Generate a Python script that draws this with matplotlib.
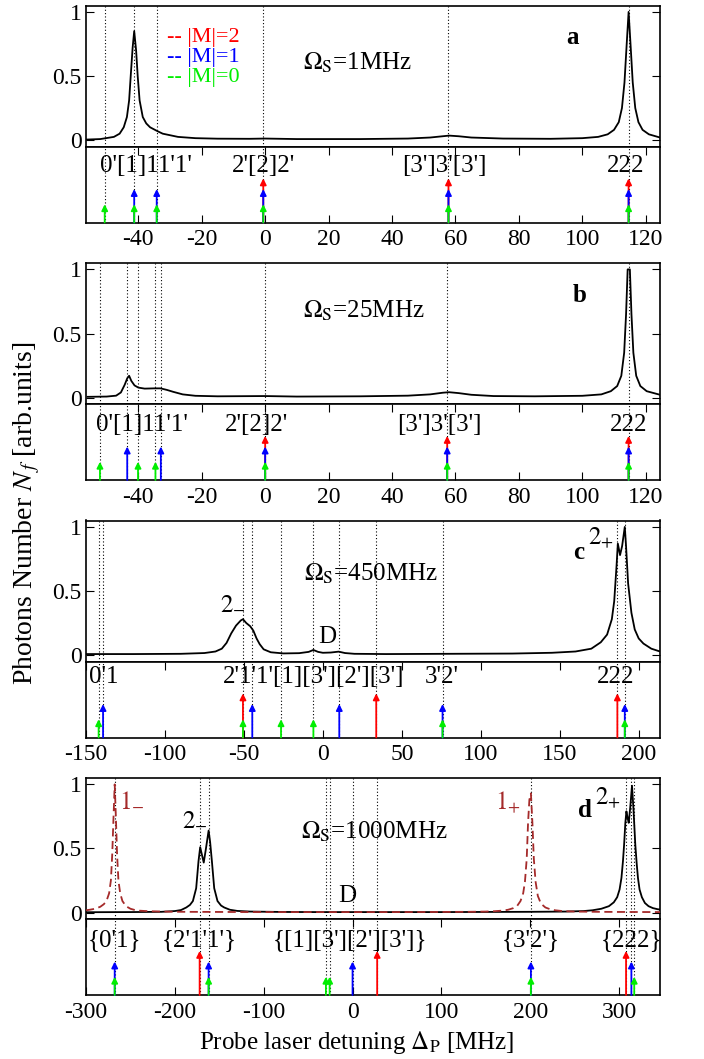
import matplotlib
matplotlib.use("Agg")
import matplotlib.pyplot as plt

plt.rcParams['font.family'] = ['Liberation Serif', 'DejaVu Serif']
plt.rcParams['mathtext.fontset'] = 'stix'

# ---------------- spectra ----------------
a_x = [-56.5, -52, -47.7, -45.9, -44.6, -43.6, -42.9, -42.4, -41.8, -41.3, -40.7, -40.2, -39.6,
       -38.6, -37.5, -36.3, -34, -32.3, -30, -27.5, -22, -15, -5, 0, 10, 30, 45, 52, 56, 58, 61,
       65, 75, 90, 100, 105, 108, 110, 111.5, 112.5, 113.3, 114, 114.6, 115.2, 115.9, 116.7,
       117.7, 119, 121, 124.5]
a_y = [0.004, 0.008, 0.025, 0.05, 0.10, 0.18, 0.31, 0.50, 0.72, 0.85, 0.70, 0.50, 0.31,
       0.18, 0.13, 0.10, 0.07, 0.05, 0.038, 0.025, 0.015, 0.011, 0.01, 0.012, 0.008, 0.008, 0.012,
       0.02, 0.03, 0.035, 0.03, 0.02, 0.012, 0.01, 0.015, 0.025, 0.045, 0.08, 0.14, 0.25, 0.45,
       0.75, 1.0, 0.75, 0.45, 0.25, 0.14, 0.08, 0.045, 0.02]

b_x = [-56, -50, -47, -45.5, -44.3, -43.5, -42.9, -42.2, -41.2, -40, -38, -35, -33, -31, -29,
       -26, -22, -15, 0, 10, 30, 45, 52, 56, 58, 61, 65, 72, 85, 100, 106, 109, 111, 112.3,
       113.2, 113.8, 114.3, 115.0, 115.5, 116.1, 117.0, 118.3, 120.3, 124.5]
b_y = [0.006, 0.008, 0.015, 0.04, 0.10, 0.15, 0.17, 0.13, 0.095, 0.078, 0.07, 0.072, 0.072,
       0.06, 0.045, 0.025, 0.014, 0.01, 0.012, 0.008, 0.01, 0.015, 0.025, 0.038, 0.042, 0.035,
       0.022, 0.012, 0.01, 0.014, 0.025, 0.05, 0.09, 0.17, 0.35, 0.65, 1.0, 1.0, 0.65, 0.35,
       0.17, 0.09, 0.05, 0.022]

c_x = [-150, -120, -90, -75, -68, -64, -61, -58, -55, -52, -50.6, -48.5, -46, -44, -42, -40,
       -37.5, -33, -25, -15, -9, -6, -3, 0, 5, 10, 14, 20, 40, 80, 120, 145, 160, 170, 176, 180,
       183, 184.5, 186, 186.8, 188.2, 189.5, 191.2, 192, 193.3, 195.4, 197.5, 200, 203, 208, 213]
c_y = [0.008, 0.008, 0.01, 0.016, 0.028, 0.05, 0.095, 0.17, 0.23, 0.27, 0.28, 0.25, 0.225,
       0.19, 0.13, 0.085, 0.045, 0.022, 0.013, 0.015, 0.025, 0.04, 0.025, 0.018, 0.02, 0.027,
       0.016, 0.01, 0.008, 0.01, 0.012, 0.018, 0.028, 0.05, 0.1, 0.16, 0.28, 0.42, 0.7, 0.87,
       0.78, 0.85, 1.0, 0.85, 0.56, 0.33, 0.2, 0.13, 0.09, 0.05, 0.03]

d_x = [-300, -250, -215, -200, -193, -187.1, -183, -179.7, -176, -173.4, -171.5, -169.5,
       -167.5, -165, -162, -160.3, -158.3, -155.7, -152, -148, -144.5, -138, -129.7, -115, -80,
       -40, 0, 40, 100, 150, 200, 240, 260, 270, 280, 288.5, 294, 297.8, 300.5, 302.6, 304.3,
       305.6, 307, 308.2, 309.5, 310.8, 312.5, 314.5, 316.2, 318.2, 319.8, 321.2, 323, 325.6,
       329, 333.1, 338, 343.5, 346]
d_y = [0.003, 0.004, 0.006, 0.012, 0.02, 0.04, 0.06, 0.09, 0.19, 0.40, 0.51, 0.45,
       0.39, 0.5, 0.64, 0.55, 0.40, 0.19, 0.09, 0.055, 0.04, 0.022, 0.013, 0.008, 0.005,
       0.004, 0.004, 0.004, 0.004, 0.005, 0.006, 0.008, 0.012, 0.018, 0.03, 0.05, 0.08, 0.12,
       0.18, 0.27, 0.4, 0.53, 0.7, 0.79, 0.74, 0.70, 0.82, 0.99, 0.8, 0.53, 0.38, 0.27, 0.18,
       0.12, 0.075, 0.05, 0.035, 0.026, 0.024]

# 1-/1+ dressed-state resonances (dashed curve, panel d)
dr_x = [-300, -296, -292, -288, -284, -280, -277, -274, -272, -270.5, -269, -267.7, -266.4,
        -265, -263.5, -261.5, -259, -255, -250, -245, -240, -230, -215, -190, -150, -100, -50,
        0, 50, 100, 130, 150, 160, 168, 175, 181, 185, 189, 192, 194, 196, 197.5, 199, 200.7,
        202.4, 204, 206, 208.5, 212, 217, 222, 228, 236, 250, 275, 300, 346]
dr_y = [0.018, 0.022, 0.027, 0.035, 0.045, 0.065, 0.09, 0.15, 0.25, 0.45, 0.75, 1.0, 0.75,
        0.45, 0.25, 0.15, 0.09, 0.05, 0.03, 0.02, 0.015, 0.011, 0.008, 0.006, 0.005, 0.004,
        0.004, 0.004, 0.004, 0.005, 0.006, 0.008, 0.011, 0.015, 0.022, 0.035, 0.05, 0.09, 0.15,
        0.24, 0.42, 0.7, 0.88, 0.93, 0.7, 0.42, 0.24, 0.13, 0.07, 0.04, 0.027, 0.018, 0.012,
        0.008, 0.006, 0.005, 0.004]

# ---------------- transition positions by |M| ----------------
a_m0 = [-50.6, -41.3, -34.2, -0.6, 57.8, 114.6]
a_m1 = [-41.3, -34.2, -0.6, 57.8, 114.6]
a_m2 = [-0.6, 57.8, 114.6]

b_m0 = [-52.1, -40.1, -34.6, 0, 57.4, 114.6]
b_m1 = [-43.5, -32.9, 0, 57.4, 114.6]
b_m2 = [0, 57.4, 114.6]

c_m0 = [-142, -50.6, -26.5, -6, 75.8, 191.2]
c_m1 = [-139.2, -44.7, 10.4, 75.8, 191.2]
c_m2 = [-50.6, 33.8, 186.5]

d_m0 = [-267.7, -162, -30, -25.8, 200.7, 317]
d_m1 = [-267.7, -162, 0, 200.7, 313.8]
d_m2 = [-172.1, 27.7, 307.8]

# ---------------- transition labels ----------------
a_lab = ["0'[1]11'1'", "2'[2]2'", "[3']3'[3']", "222"]
a_lab_x = [-37.7, -0.6, 56.5, 113.7]
b_lab = ["0'[1]11'1'", "2'[2]2'", "[3']3'[3']", "222"]
b_lab_x = [-39, -2.8, 55, 114.6]
c_lab = ["0'1", "2'1'1'[1][3'][2'][3']", "3'2'", "222"]
c_lab_x = [-139, -5.7, 75.3, 185.6]
d_lab = ["{0'1}", "{2'1'1'}", "{[1][3'][2'][3']}", "{3'2'}", "{222}"]
d_lab_x = [-268, -172, -2.5, 200, 313.5]

xlims = [(-56.5, 124.5), (-56.5, 124.5), (-150, 213.5), (-300, 346)]
xticks = [list(range(-40, 121, 20)), list(range(-40, 121, 20)),
          list(range(-150, 201, 50)), list(range(-300, 301, 100))]
rabi = ["1", "25", "450", "1000"]
rabi_x = [29, 31, 30.5, 24]
rabi_y = [0.6, 0.68, 0.63, 0.63]
letters = ["a", "b", "c", "d"]
letter_x = [97, 99, 162, 261.7]

RED, BLUE, GREEN, DRED = "#ff0000", "#0000ff", "#00ee00", "#a52a2a"
H_M = {2: 0.58, 1: 0.44, 0: 0.24}
COL_M = {2: RED, 1: BLUE, 0: GREEN}
FS = 18       # annotation text
FT = 17       # tick labels

W, H = 704, 1059
fig = plt.figure(figsize=(W / 100, H / 100), dpi=100)
LEFT, RIGHT = 86, 660
TOP0, PERIOD, HT, HB = 5.5, 257.5, 141, 76


def rect(top, h):
    return [LEFT / W, 1 - (top + h) / H, (RIGHT - LEFT) / W, h / H]


specs = [(a_x, a_y), (b_x, b_y), (c_x, c_y), (d_x, d_y)]
mlists = [(a_m0, a_m1, a_m2), (b_m0, b_m1, b_m2), (c_m0, c_m1, c_m2), (d_m0, d_m1, d_m2)]
labs = [(a_lab, a_lab_x), (b_lab, b_lab_x), (c_lab, c_lab_x), (d_lab, d_lab_x)]
lab_y = [0.74, 0.72, 0.8, 0.73]

for i in range(4):
    top = TOP0 + PERIOD * i
    ax = fig.add_axes(rect(top, HT))
    axb = fig.add_axes(rect(top + HT, HB), sharex=ax)

    sx, sy = specs[i]
    m0, m1, m2 = mlists[i]
    lines = sorted(set(m0 + m1 + m2))

    for x in lines:
        for a in (ax, axb):
            a.axvline(x, color="k", ls=(0, (1, 2)), lw=0.8, zorder=1)

    ax.plot(sx, sy, color="k", lw=1.3, zorder=3)
    if i == 3:
        ax.plot(dr_x, dr_y, color=DRED, lw=1.3, ls=(0, (4.5, 2.5)), zorder=4)

    ax.set_xlim(*xlims[i])
    ax.set_ylim(-0.05, 1.05)
    ax.set_yticks([0, 0.5, 1])
    ax.set_yticklabels(["0", "0.5", "1"])
    ax.tick_params(axis="y", direction="in", left=True, right=True, length=6,
                   labelsize=FT, pad=3)
    ax.tick_params(axis="x", bottom=False, top=False, labelbottom=False)

    axb.set_ylim(0, 1)
    axb.set_yticks([])
    axb.set_xticks(xticks[i])
    axb.set_xticklabels([str(t) for t in xticks[i]])
    axb.tick_params(axis="x", direction="in", top=True, bottom=True, length=6,
                    labelsize=FT, pad=5)

    for a in (ax, axb):
        for s in a.spines.values():
            s.set_linewidth(1.2)

    # stacked arrows: tallest first so the shorter ones sit on top
    for m, xs in ((2, m2), (1, m1), (0, m0)):
        for x in xs:
            axb.annotate("", xy=(x, H_M[m]), xytext=(x, 0),
                         arrowprops=dict(arrowstyle="-|>", color=COL_M[m], lw=1.3,
                                         mutation_scale=9, shrinkA=0, shrinkB=0),
                         zorder=5)

    for t, x in zip(*labs[i]):
        axb.text(x, lab_y[i], t, ha="center", va="center", fontsize=FS, zorder=6)

    ax.text(rabi_x[i], rabi_y[i], r"$\Omega_{\mathrm{S}}$=" + rabi[i] + "MHz",
            ha="center", va="center", fontsize=FS)
    ax.text(letter_x[i], 0.8, letters[i], ha="center", va="center", fontsize=FS,
            fontweight="bold")

    if i == 0:
        for m, yy in ((2, 0.80), (1, 0.645), (0, 0.49)):
            ax.text(-31, yy, "-- |M|=%d" % m, color=COL_M[m], ha="left", va="center",
                    fontsize=16)
    if i == 2:
        ax.text(-57, 0.41, r"$2_{-}$", fontsize=FS, ha="center", va="center")
        ax.text(2.6, 0.14, "D", fontsize=FS, ha="center", va="center")
        ax.text(176, 0.92, r"$2_{+}$", fontsize=FS, ha="center", va="center")
    if i == 3:
        ax.text(-177, 0.73, r"$2_{-}$", fontsize=FS, ha="center", va="center")
        ax.text(-6, 0.13, "D", fontsize=FS, ha="center", va="center")
        ax.text(288, 0.9, r"$2_{+}$", fontsize=FS, ha="center", va="center")
        ax.text(-248, 0.88, r"$1_{-}$", fontsize=FS, ha="center", va="center", color=DRED)
        ax.text(175, 0.86, r"$1_{+}$", fontsize=FS, ha="center", va="center", color=DRED)
        axb.set_xlabel(r"Probe laser detuning $\Delta_{\mathrm{P}}$ [MHz]", fontsize=FS,
                       labelpad=4)
        axb.xaxis.set_label_coords(0.472, -0.45)

fig.text(0.038, 0.515, r"Photons Number $N_{\,f}$ [arb.units]", rotation=90,
         ha="center", va="center", fontsize=20)

fig.savefig("out.png", dpi=100)
